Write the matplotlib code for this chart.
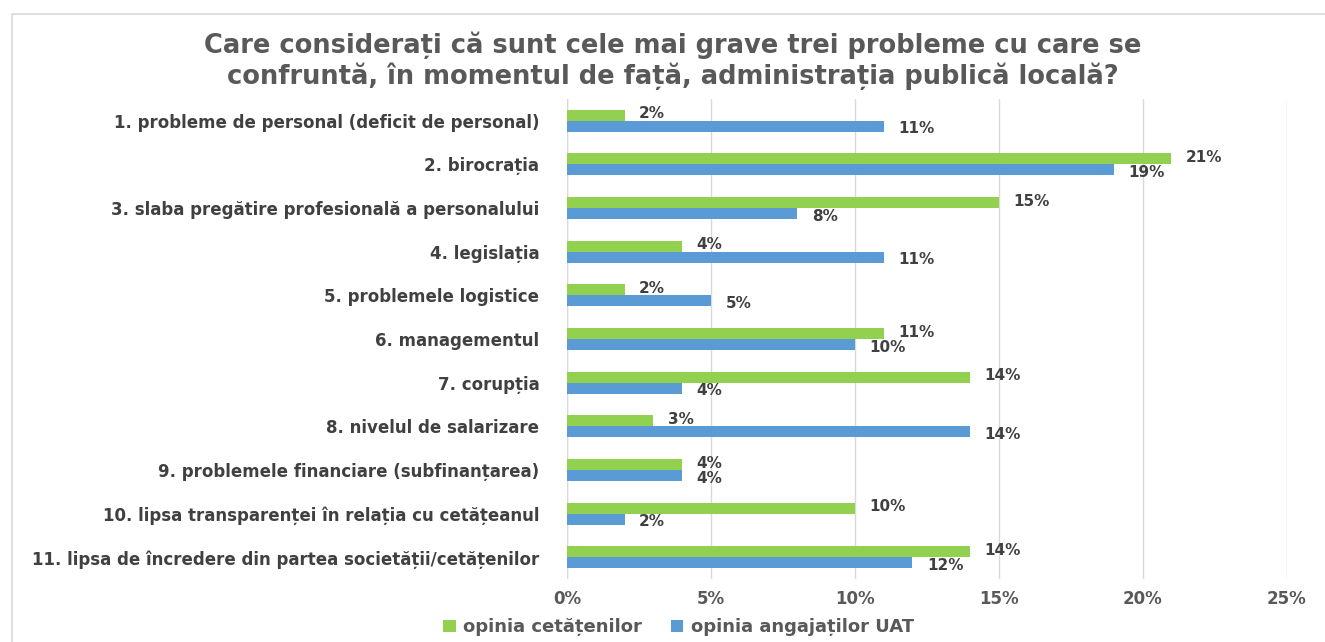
import numpy as np
import matplotlib.pyplot as plt
from matplotlib.patches import Rectangle

# data
categories = [
    "1. probleme de personal (deficit de personal)",
    "2. birocrația",
    "3. slaba pregătire profesională a personalului",
    "4. legislația",
    "5. problemele logistice",
    "6. managementul",
    "7. corupția",
    "8. nivelul de salarizare",
    "9. problemele financiare (subfinanțarea)",
    "10. lipsa transparenței în relația cu cetățeanul",
    "11. lipsa de încredere din partea societății/cetățenilor",
]
cetateni = [2, 21, 15, 4, 2, 11, 14, 3, 4, 10, 14]
angajati = [11, 19, 8, 11, 5, 10, 4, 14, 4, 2, 12]
xticks = [0, 5, 10, 15, 20, 25]

green = '#92d050'
blue = '#5b9bd5'
txt = '#404040'

fig = plt.figure(figsize=(13.25, 6.42), dpi=100)
ax = fig.add_axes([0.428, 0.098, 0.543, 0.748])

# chart frame
fig.patches.append(Rectangle((12/1325, -0.1), 1.2, 1 - 14/642 + 0.1,
                             transform=fig.transFigure, fill=False,
                             edgecolor='#d9d9d9', linewidth=1.2))

y = np.arange(len(categories))
h = 0.25
ax.barh(y - h/2, cetateni, height=h, color=green, label='opinia cetățenilor', zorder=3)
ax.barh(y + h/2, angajati, height=h, color=blue, label='opinia angajaților UAT', zorder=3)

for i in range(len(categories)):
    ax.text(cetateni[i] + 0.5, y[i] - h/2 - 0.03, f"{cetateni[i]}%", va='center', ha='left',
            fontsize=11, fontweight='bold', color=txt)
    ax.text(angajati[i] + 0.5, y[i] + h/2 + 0.06, f"{angajati[i]}%", va='center', ha='left',
            fontsize=11, fontweight='bold', color=txt)

ax.set_ylim(10.5, -0.5)
ax.set_xlim(0, 25)
ax.set_yticks(y)
ax.set_yticklabels(categories, fontsize=12, fontweight='bold', color=txt)
ax.set_xticks(xticks)
ax.set_xticklabels([f"{t}%" for t in xticks], fontsize=12, color='#595959',
                   fontweight='bold', family='DejaVu Sans Condensed')
ax.tick_params(axis='y', length=0, pad=20)
ax.tick_params(axis='x', length=0, pad=8)
ax.grid(axis='x', color='#d9d9d9', linewidth=1, zorder=0)
for s in ax.spines.values():
    s.set_visible(False)
ax.axvline(0, color='#d9d9d9', linewidth=1, zorder=1)

fig.text(0.508, 0.905, "Care considerați că sunt cele mai grave trei probleme cu care se\n"
         "confruntă, în momentul de față, administrația publică locală?",
         ha='center', va='center', fontsize=18.5, fontweight='bold', color='#595959',
         family='DejaVu Sans Condensed', linespacing=1.15)

leg = fig.legend(loc='center', bbox_to_anchor=(0.512, 0.023), ncol=2, frameon=False,
                 handlelength=0.7, handleheight=0.7, handletextpad=0.4,
                 columnspacing=1.6, labelcolor='#595959',
                 prop={'family': 'DejaVu Sans Condensed', 'size': 13, 'weight': 'bold'})

fig.savefig('out.png', dpi=100)
